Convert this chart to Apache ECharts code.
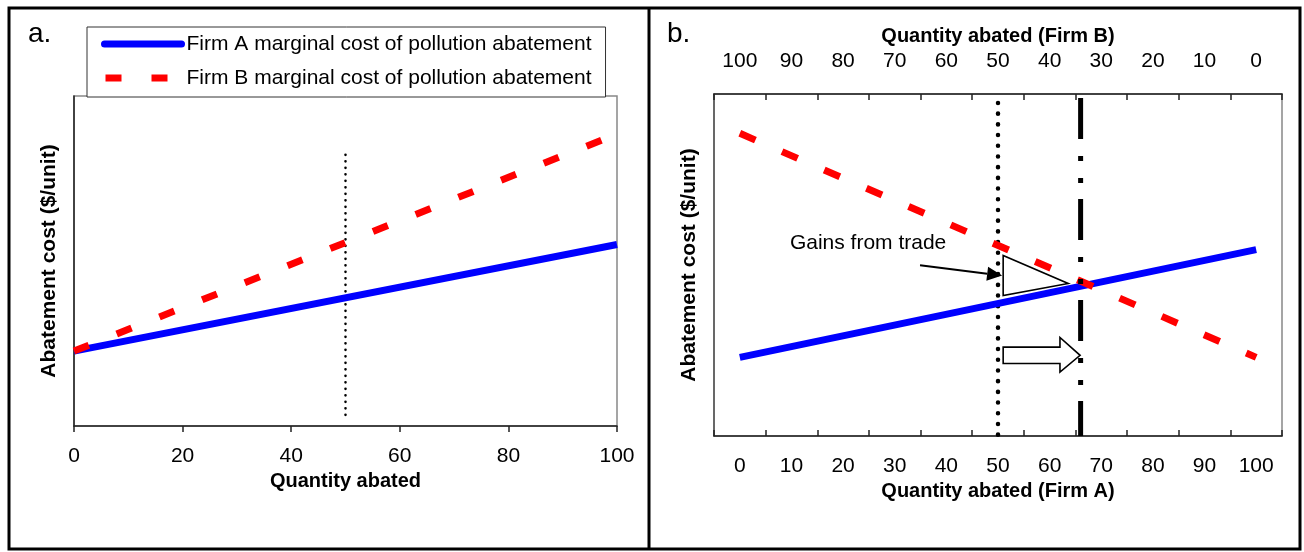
<!DOCTYPE html>
<html><head><meta charset="utf-8">
<script src="https://cdn.jsdelivr.net/npm/echarts@6/dist/echarts.min.js"></script>
<style>html,body{margin:0;padding:0;background:#fff}#c{width:1304px;height:552px}</style>
</head><body><div id="c"></div>
<script>
// ---------- Panel a data ----------
const aQuantity = [0, 100];
const aFirmA = [22.7, 55];
const aFirmB = [22.7, 88.5];
const aRefQ = 50;
const aRefRange = [2.7, 82.2];
const aTicks = [0, 20, 40, 60, 80, 100];

// ---------- Panel b data ----------
const bQuantityA = [0, 100];
const bFirmA = [23, 54.5];
const bFirmB = [88.5, 23];           // Firm B MC plotted against Firm A quantity
const bLabelsA = [0, 10, 20, 30, 40, 50, 60, 70, 80, 90, 100];
const bLabelsB = [100, 90, 80, 70, 60, 50, 40, 30, 20, 10, 0];
const bTickPos = [-5, 5, 15, 25, 35, 45, 55, 65, 75, 85, 95, 105];
const bQA1 = 50, bQA2 = 66, bQB1 = 50, bQB2 = 34;
const bRefRangeDotted = [0, 97.4];
const bRefRangeDashDot = [98.8, 0];
const bLabelTopY = 91.5, bLabelBottomY = 6.7;
const gainsText = 'Gains from trade';
const gainsTextPos = [9.7, 56.3];
const gainsArrow = [[34.9, 49.9], [50.8, 46.9]];
const gainsTriangle = [[51, 52.8], [51, 41.1], [63.6, 44.6]];
const shiftArrow = [[51, 26.0], [62, 26.0], [62, 28.8], [65.9, 23.6], [62, 18.7], [62, 21.2], [51, 21.2]];

const nameA = 'Firm A marginal cost of pollution abatement';
const nameB = 'Firm B marginal cost of pollution abatement';
const FONT = "'Liberation Sans', Arial, sans-serif";
const BLUE = '#0000ff', RED = '#ff0000';

const pairs = (xs, ys) => xs.map((x, i) => [x, ys[i]]);

const chart = echarts.init(document.getElementById('c'), null, {renderer: 'canvas'});

const rich = {
  m: {fontSize: 21, fontFamily: FONT, color: '#000', verticalAlign: 'bottom', padding: [0, 0, 4, 0]},
  s: {fontSize: 14, fontFamily: FONT, color: '#000', verticalAlign: 'bottom'}
};
const qLabel = (q, sub, rest) => `{m|${q}}{s|${sub}}{m|${rest}}`;

const option = {
  backgroundColor: '#fff',
  animation: false,
  textStyle: {fontFamily: FONT},
  title: [
    {text: 'a.', left: 28, top: 20, padding: 0, textStyle: {fontSize: 28, fontWeight: 'normal', color: '#000', fontFamily: FONT}},
    {text: 'b.', left: 667, top: 20, padding: 0, textStyle: {fontSize: 28, fontWeight: 'normal', color: '#000', fontFamily: FONT}}
  ],
  legend: {
    orient: 'vertical', left: 87, top: 27,
    padding: [5, 14, 7, 14], itemGap: 10, itemWidth: 77, itemHeight: 14,
    borderColor: '#333', borderWidth: 1, backgroundColor: '#fff',
    textStyle: {fontSize: 21, fontFamily: FONT, color: '#000', lineHeight: 24, padding: [0, 0, 0, 0]},
    itemStyle: {color: 'rgba(0,0,0,0)', borderWidth: 0},
    lineStyle: {width: 7},
    data: [
      {name: nameA, lineStyle: {width: 7, cap: 'round', color: BLUE}},
      {name: nameB, lineStyle: {width: 7, color: RED, type: [16, 30], dashOffset: -1}}
    ]
  },
  grid: [
    {left: 74, right: 687, top: 96, bottom: 126, show: true, borderColor: '#888', borderWidth: 1.5},
    {left: 714, right: 22, top: 94, bottom: 116, show: true, borderColor: '#888', borderWidth: 1.5}
  ],
  xAxis: [
    {
      gridIndex: 0, type: 'value', min: 0, max: 100, interval: 20,
      axisLine: {lineStyle: {color: '#222', width: 1.5}},
      axisTick: {show: true, inside: false, length: 6, lineStyle: {color: '#222', width: 1.5}},
      axisLabel: {margin: 20, fontSize: 21, color: '#000', fontFamily: FONT, customValues: aTicks},
      splitLine: {show: false},
      name: 'Quantity abated', nameLocation: 'middle', nameGap: 43,
      nameTextStyle: {fontSize: 20, fontWeight: 'bold', color: '#000', fontFamily: FONT}
    },
    {
      gridIndex: 1, type: 'value', min: -5, max: 105, position: 'bottom',
      axisLine: {onZero: false, lineStyle: {color: '#222', width: 1.5}},
      axisTick: {show: true, inside: true, length: 6, customValues: bTickPos, lineStyle: {color: '#222', width: 1.5}},
      axisLabel: {margin: 20, fontSize: 21, color: '#000', fontFamily: FONT, customValues: bLabelsA},
      splitLine: {show: false},
      name: 'Quantity abated (Firm A)', nameLocation: 'middle', nameGap: 43,
      nameTextStyle: {fontSize: 20, fontWeight: 'bold', color: '#000', fontFamily: FONT}
    },
    {
      gridIndex: 1, type: 'value', min: -5, max: 105, inverse: true, position: 'top',
      axisLine: {onZero: false, lineStyle: {color: '#222', width: 1.5}},
      axisTick: {show: true, inside: true, length: 6, customValues: bTickPos, lineStyle: {color: '#222', width: 1.5}},
      axisLabel: {margin: 22, fontSize: 21, color: '#000', fontFamily: FONT, customValues: bLabelsB},
      splitLine: {show: false},
      name: 'Quantity abated (Firm B)', nameLocation: 'middle', nameGap: 47,
      nameTextStyle: {fontSize: 20, fontWeight: 'bold', color: '#000', fontFamily: FONT}
    }
  ],
  yAxis: [
    {
      gridIndex: 0, type: 'value', min: 0, max: 100,
      axisLine: {show: true, onZero: false, lineStyle: {color: '#222', width: 1.5}},
      axisTick: {show: false}, axisLabel: {show: false}, splitLine: {show: false},
      name: 'Abatement cost ($/unit)', nameLocation: 'middle', nameGap: 14,
      nameTextStyle: {fontSize: 21, fontWeight: 'bold', color: '#000', fontFamily: FONT}
    },
    {
      gridIndex: 1, type: 'value', min: 0, max: 100,
      axisLine: {show: true, onZero: false, lineStyle: {color: '#555', width: 1.5}},
      axisTick: {show: false}, axisLabel: {show: false}, splitLine: {show: false},
      name: 'Abatement cost ($/unit)', nameLocation: 'middle', nameGap: 14,
      nameTextStyle: {fontSize: 21, fontWeight: 'bold', color: '#000', fontFamily: FONT}
    }
  ],
  series: [
    // ---- panel a ----
    {name: nameA, type: 'line', xAxisIndex: 0, yAxisIndex: 0, data: pairs(aQuantity, aFirmA),
      symbol: 'none', lineStyle: {color: BLUE, width: 7}, itemStyle: {color: BLUE}, z: 3},
    {name: nameB, type: 'line', xAxisIndex: 0, yAxisIndex: 0, data: pairs(aQuantity, aFirmB),
      symbol: 'none', lineStyle: {color: RED, width: 7, type: [16, 30]}, itemStyle: {color: RED}, z: 4},
    {type: 'line', xAxisIndex: 0, yAxisIndex: 0, data: [[aRefQ, aRefRange[1]], [aRefQ, aRefRange[0]]],
      symbol: 'none', silent: true, lineStyle: {color: '#000', width: 2.6, type: [0.1, 6.4], cap: 'round'}, z: 2},
    // ---- panel b ----
    {name: nameA, type: 'line', xAxisIndex: 1, yAxisIndex: 1, data: pairs(bQuantityA, bFirmA),
      symbol: 'none', lineStyle: {color: BLUE, width: 7}, itemStyle: {color: BLUE}, z: 3},
    {name: nameB, type: 'line', xAxisIndex: 1, yAxisIndex: 1, data: pairs(bQuantityA, bFirmB),
      symbol: 'none', lineStyle: {color: RED, width: 7, type: [17, 29]}, itemStyle: {color: RED}, z: 4},
    {type: 'line', xAxisIndex: 1, yAxisIndex: 1, data: [[bQA1, bRefRangeDotted[1]], [bQA1, bRefRangeDotted[0]]],
      symbol: 'none', silent: true, lineStyle: {color: '#000', width: 4.5, type: [0.1, 10.6], cap: 'round'}, z: 2},
    {type: 'line', xAxisIndex: 1, yAxisIndex: 1, data: [[bQA2, bRefRangeDashDot[0]], [bQA2, bRefRangeDashDot[1]]],
      symbol: 'none', silent: true, lineStyle: {color: '#000', width: 5, type: [41, 17, 5, 17, 5, 16], cap: 'butt'}, z: 5},
    // Q labels
    {type: 'scatter', xAxisIndex: 1, yAxisIndex: 1, symbolSize: 1, itemStyle: {opacity: 0}, silent: true, z: 6,
      data: [
        {value: [bQA1, bLabelTopY], label: {show: true, position: 'left', distance: 22, formatter: qLabel('Q', 'B1', ' =' + bQB1), rich}},
        {value: [bQA2, bLabelTopY], label: {show: true, position: 'right', distance: 6, formatter: qLabel('Q', 'B1', ' = ' + bQB2), rich}},
        {value: [bQA1, bLabelBottomY], label: {show: true, position: 'left', distance: 22, formatter: qLabel('Q', 'A1', ' =' + bQA1), rich}},
        {value: [bQA2, bLabelBottomY], label: {show: true, position: 'right', distance: 6, formatter: qLabel('Q', 'A2', ' = ' + bQA2), rich}}
      ]},
    // annotations
    {type: 'custom', xAxisIndex: 1, yAxisIndex: 1, silent: true, z: 7,
      data: [[0, 0]],
      renderItem: function (params, api) {
        const tp = api.coord(gainsTextPos);
        const a0 = api.coord(gainsArrow[0]);
        const a1 = api.coord(gainsArrow[1]);
        const ang = Math.atan2(a1[1] - a0[1], a1[0] - a0[0]);
        const hl = 15, hw = 7;
        const bx = a1[0] - hl * Math.cos(ang), by = a1[1] - hl * Math.sin(ang);
        const px = -Math.sin(ang), py = Math.cos(ang);
        const tri = gainsTriangle.map(p => api.coord(p));
        const blk = shiftArrow.map(p => api.coord(p));
        return {
          type: 'group',
          children: [
            {type: 'text', style: {x: tp[0], y: tp[1], text: gainsText, fontSize: 21, fontFamily: FONT, fill: '#000', verticalAlign: 'middle', align: 'left'}},
            {type: 'line', shape: {x1: a0[0], y1: a0[1], x2: bx, y2: by}, style: {stroke: '#000', lineWidth: 2}},
            {type: 'polygon', shape: {points: [a1, [bx + px * hw, by + py * hw], [bx - px * hw, by - py * hw]]}, style: {fill: '#000'}},
            {type: 'polygon', shape: {points: tri}, style: {fill: '#fff', stroke: '#000', lineWidth: 1.6}},
            {type: 'polygon', shape: {points: blk}, style: {fill: '#fff', stroke: '#000', lineWidth: 1.6}}
          ]
        };
      }}
  ],
  graphic: [
    {type: 'rect', shape: {x: 9, y: 8, width: 1291, height: 541}, style: {fill: 'none', stroke: '#000', lineWidth: 3}, z: 100},
    {type: 'line', shape: {x1: 649, y1: 8, x2: 649, y2: 549}, style: {stroke: '#000', lineWidth: 3}, z: 100}
  ]
};
chart.setOption(option);
</script>
</body></html>
